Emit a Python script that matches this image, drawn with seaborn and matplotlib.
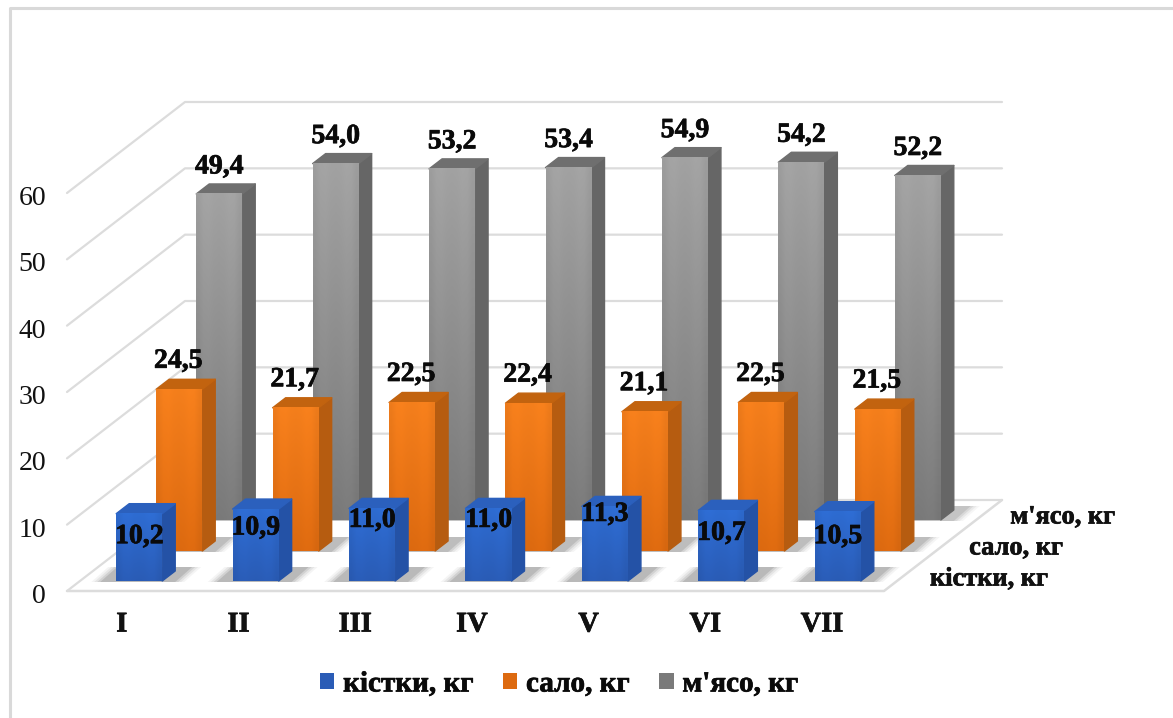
import numpy as np
import pandas as pd
import matplotlib
matplotlib.use("Agg")
import matplotlib.pyplot as plt
import matplotlib.patheffects as pe
from matplotlib.colors import to_rgb
from matplotlib.lines import Line2D
from matplotlib.patches import Patch, Polygon
from matplotlib.transforms import IdentityTransform, ScaledTranslation
import seaborn as sns

groups = ["I", "II", "III", "IV", "V", "VI", "VII"]
bones = [10.2, 10.9, 11.0, 11.0, 11.3, 10.7, 10.5]
fat = [24.5, 21.7, 22.5, 22.4, 21.1, 22.5, 21.5]
meat = [49.4, 54.0, 53.2, 53.4, 54.9, 54.2, 52.2]
series_names = ["кістки, кг", "сало, кг", "м'ясо, кг"]
y_ticks = [0, 10, 20, 30, 40, 50, 60]

W, H, DPI = 1173, 718, 100
X0, X1, Y0, Y60 = 67, 884, 591, 193     # front edge of the floor, in pixels
DEPTH = (118, 91)                       # oblique shift from front to back wall
BAR_DEPTH = (13, 10)
BAR_SCALE = 6.6                         # pixels per kg on the bar planes
BAR_SPAN = 815                          # pixels spanned by the seven bar slots
ROW_SHIFT = [(14, 10), (54, 40), (94, 71)]
BONE_LABEL_DROP = [23, 19, 12, 12, 8, 23, 25]   # px below the bar top, per group

STYLES = [
    dict(front=("#2e6cd2", "#2a5cb6"), side=("#2452a6", "#1d4590"), top="#2b60bd", shadow="#6f6f6f"),
    dict(front=("#f57f1c", "#dd6a10"), side=("#b65c10", "#bd5f0e"), top="#c2630f", shadow="#777777"),
    dict(front=("#a2a2a2", "#7a7a7a"), side=("#666666", "#595959"), top="#6f6f6f", shadow="#888888"),
]

sns.set_theme(style="white")
plt.rcParams["font.family"] = ["Liberation Serif", "DejaVu Serif"]
fig = plt.figure(figsize=(W / DPI, H / DPI), dpi=DPI, facecolor="white")
HEAVY = [pe.withStroke(linewidth=0.5, foreground="#0a0a0a")]


def place(left, top, width, height, **kw):
    """Add an axes given pixel coordinates measured from the top-left corner."""
    return fig.add_axes([left / W, 1 - (top + height) / H, width / W, height / H], **kw)


def face(ax, pts, color, rounded=False, **kw):
    ax.add_patch(Polygon(pts, closed=True, facecolor=color,
                         edgecolor=color if rounded else "none",
                         linewidth=1.0 if rounded else 0, joinstyle="round",
                         transform=IdentityTransform(), clip_on=False, **kw))


def to_display(x, y):
    return (x, H - y)


# Top and left edges of the chart frame
fig.add_artist(Line2D([9.5 / W, 9.5 / W, 1], [0, 1 - 8 / H, 1 - 8 / H], transform=fig.transFigure,
                      color="#d9d9d9", linewidth=2.2, zorder=-1))

# Reference axes: value labels, category labels, floor and wall grid
base = place(X0, Y60, X1 - X0, Y0 - Y60)
base.patch.set_visible(False)
for spine in base.spines.values():
    spine.set_visible(False)
base.set_yticks(y_ticks)
base.set_xticks(np.arange(len(groups)) - 0.03)
base.set_xticklabels(groups, fontsize=20.5, fontweight="bold", color="#111111")
base.tick_params(axis="y", length=0, pad=15, labelsize=20, labelcolor="#111111")
base.tick_params(axis="x", length=0, pad=15.5)
nudge = ScaledTranslation(0, -2.5 / DPI, fig.dpi_scale_trans)
for label in base.get_yticklabels():
    label.set_transform(label.get_transform() + nudge)

GRID = "#dcdcdc"
face(base, [to_display(X0, Y0), to_display(X1, Y0),
            to_display(X1 + DEPTH[0], Y0 - DEPTH[1]), to_display(X0 + DEPTH[0], Y0 - DEPTH[1])], "white")
for v in y_ticks:
    y = Y0 - (Y0 - Y60) * v / 60
    xs = [X0, X0 + DEPTH[0], X1 + DEPTH[0]]
    ys = [y, y - DEPTH[1], y - DEPTH[1]]
    base.plot(xs, [H - q for q in ys], color=GRID, lw=1.6, transform=IdentityTransform(),
              clip_on=False, solid_capstyle="round")
base.plot([X0, X1, X1 + DEPTH[0]], [H - Y0, H - Y0, H - Y0 + DEPTH[1]], color=GRID, lw=1.8,
          transform=IdentityTransform(), clip_on=False)
base.set_xlim(-0.5, 6.5)
base.set_ylim(0, 60)

# Bar rows, back to front, each on its own plane shifted along the depth direction
rows = [(2, meat), (1, fat), (0, bones)]
for idx, values in rows:
    sx, sy = ROW_SHIFT[idx]
    style = STYLES[idx]
    ax = place(X0 + sx, Y0 - sy - 60 * BAR_SCALE, BAR_SPAN, 60 * BAR_SCALE)
    data = pd.DataFrame({"group": groups, "kg": values})
    sns.barplot(data=data, x="group", y="kg", ax=ax, color=style["front"][0],
                width=46 / (BAR_SPAN / 7), saturation=1, zorder=3, linewidth=0, edgecolor="none")
    ax.set_xlim(-0.5, 6.5)
    ax.set_ylim(0, 60)
    ax.set_axis_off()
    ax.patch.set_visible(False)

    top_c = np.array(to_rgb(style["front"][0]))
    bot_c = np.array(to_rgb(style["front"][1]))
    t = np.linspace(0, 1, 64)[:, None, None]
    band = np.array([0.97, 1.01, 1.015, 1.0, 0.995, 1.0, 1.015, 1.01, 0.97])[None, :, None]
    shade = np.clip((top_c[None, None, :] * (1 - t) + bot_c[None, None, :] * t) * band, 0, 1)

    for i, (bar, v) in enumerate(list(zip(ax.patches, values))):
        x, w, h = bar.get_x(), bar.get_width(), bar.get_height()
        (xa, ya), (xb, yb) = ax.transData.transform([(x, 0), (x + w, h)])
        dx, dy = BAR_DEPTH

        # Soft contact shadow lying on the floor
        for grow, alpha in [(9, 0.07), (6, 0.11), (3, 0.17), (0, 0.24)]:
            face(ax, [(xa - 16 - grow, ya - 1), (xb + 13 + grow, ya - 1),
                      (xb + 30 + grow, ya + 14), (xa + 1 - grow, ya + 14)],
                 style["shadow"], alpha=alpha, zorder=1)

        # Side and top faces of the block
        face(ax, [(xb, ya), (xb + dx, ya + dy), (xb + dx, yb + dy), (xb, yb)], style["side"][0],
             rounded=True, zorder=2)
        face(ax, [(xa, yb), (xb, yb), (xb + dx, yb + dy), (xa + dx, yb + dy)], style["top"],
             rounded=True, zorder=2)

        # Front face gradient over the seaborn bar
        ax.imshow(shade, extent=(x, x + w, 0, h), aspect="auto", interpolation="bilinear",
                  zorder=4, origin="upper")

        # Value label
        text = f"{v:.1f}".replace(".", ",")
        cx = x + w / 2
        if idx == 0:
            offset = (0, -BONE_LABEL_DROP[i] * 0.72)
        elif idx == 1:
            offset = (-1 * 0.72, 28 * 0.72)
        else:
            offset = (0, 27 * 0.72)
        ax.annotate(text, (cx, h), xytext=offset, textcoords="offset points",
                    ha="center", va="center", fontsize=20, fontweight="bold", color="#0a0a0a",
                    zorder=6, annotation_clip=False, path_effects=HEAVY)
    ax.set_xlim(-0.5, 6.5)
    ax.set_ylim(0, 60)

# Series names along the depth axis
for name, (px, py) in zip(series_names, [(1048, 579), (1063, 548), (1115, 517)]):
    fig.text(px / W, 1 - py / H, name, ha="right", va="center", fontsize=19,
             fontweight="bold", color="#111111", path_effects=HEAVY)

# Legend
handles = [Patch(facecolor=s["front"][1], edgecolor="none") for s in STYLES]
legend = fig.legend(handles, series_names, loc="center", bbox_to_anchor=(559 / W, 1 - 684 / H), ncol=3,
                    frameon=False, prop=dict(size=21, weight="bold"), handlelength=0.5, handleheight=0.5,
                    handletextpad=0.3, columnspacing=1.0)
for label in legend.get_texts():
    label.set_color("#0a0a0a")
    label.set_path_effects(HEAVY)
for label in base.get_xticklabels():
    label.set_path_effects(HEAVY)

fig.savefig("out.png", dpi=DPI, facecolor="white")
